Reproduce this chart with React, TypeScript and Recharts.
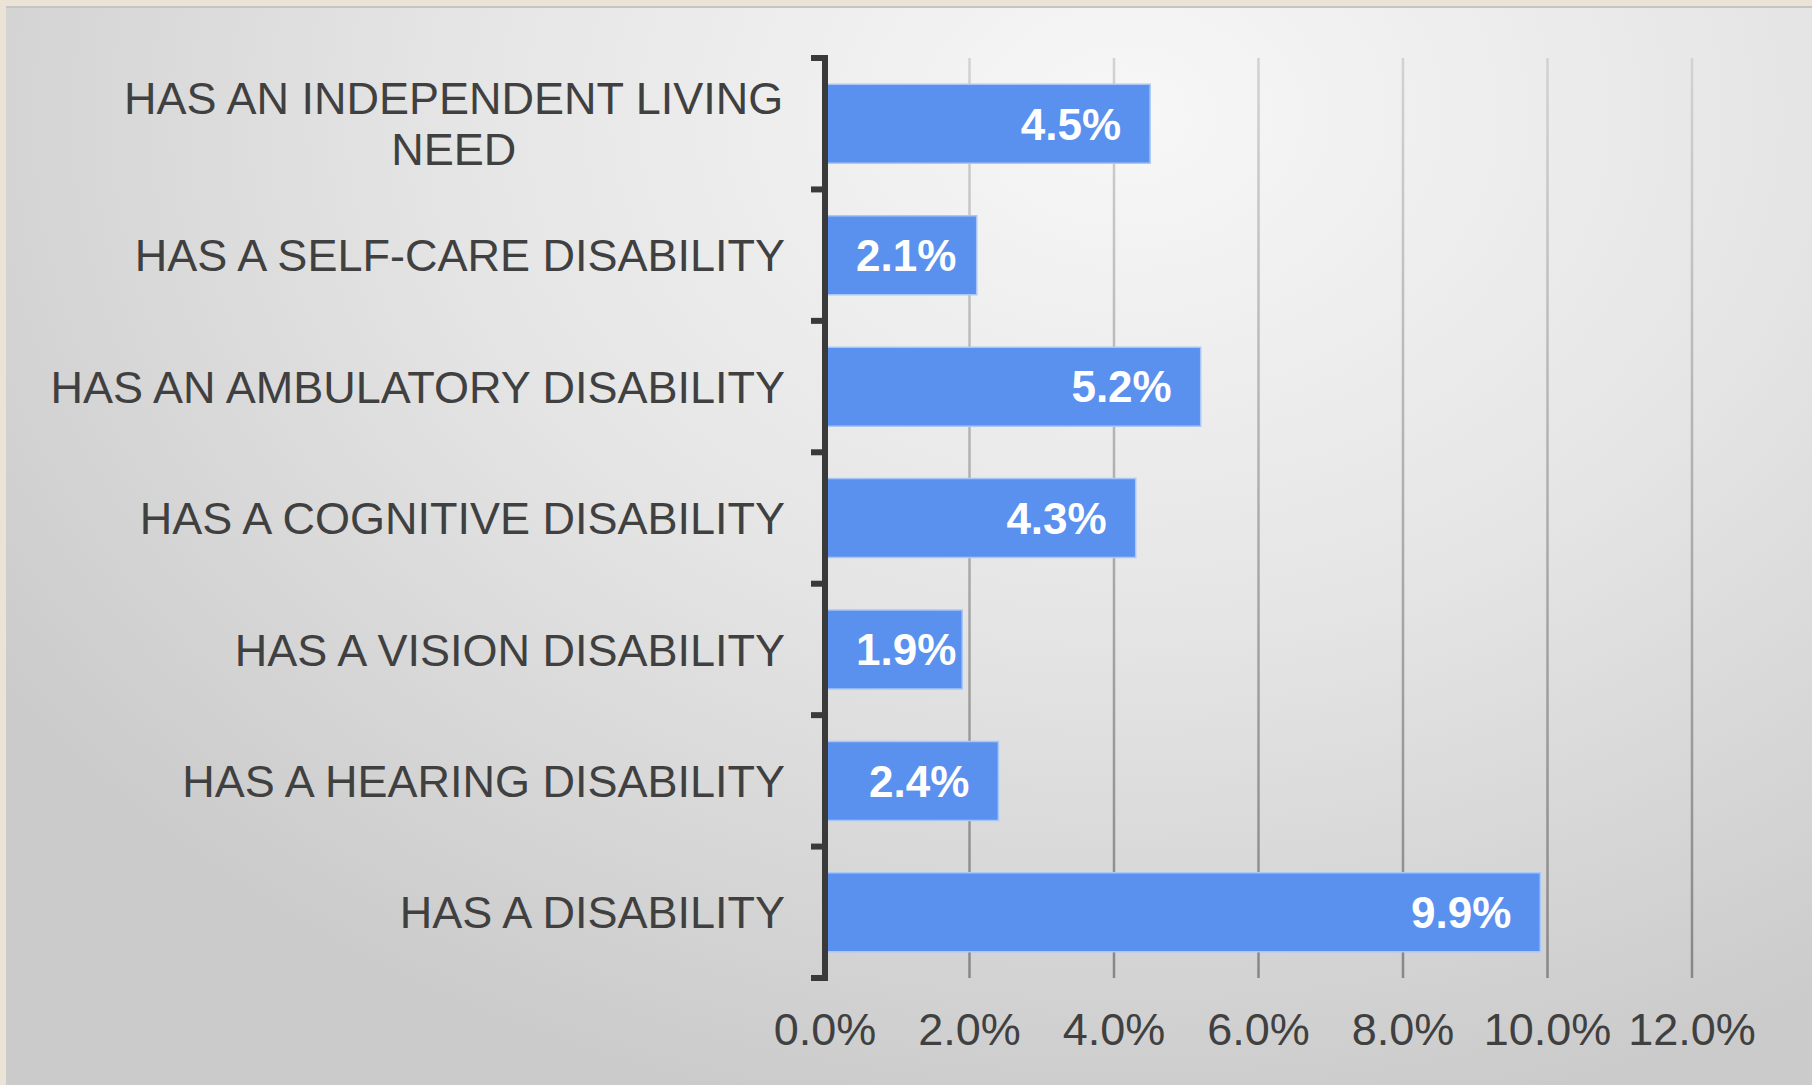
import React from "react";
import {
  BarChart,
  Bar,
  XAxis,
  YAxis,
  CartesianGrid,
  LabelList,
} from "recharts";

const categories = [
  "HAS AN INDEPENDENT LIVING NEED",
  "HAS A SELF-CARE DISABILITY",
  "HAS AN AMBULATORY DISABILITY",
  "HAS A COGNITIVE DISABILITY",
  "HAS A VISION DISABILITY",
  "HAS A HEARING DISABILITY",
  "HAS A DISABILITY",
];
const values = [4.5, 2.1, 5.2, 4.3, 1.9, 2.4, 9.9];
const xTicks = [0, 2, 4, 6, 8, 10, 12];

const data = categories.map((name, i) => ({ name, value: values[i] }));

const W = 1812;
const H = 1085;
const MARGIN = { top: 58, right: 120, bottom: 7, left: 0 };
const Y_AXIS_W = 825;
const X_AXIS_H = 100;
const PLOT_LEFT = MARGIN.left + Y_AXIS_W;
const PLOT_H = H - MARGIN.top - MARGIN.bottom - X_AXIS_H;
const BAND = PLOT_H / categories.length;

const FONT = "'Liberation Sans', Arial, sans-serif";
const TEXT = "#404040";
const AXIS = "#3a3a3a";
const FONT_SIZE = 45;
const VAL_SIZE = 44;
const MAX_LABEL_W = 770;

let ctx: CanvasRenderingContext2D | null = null;
function measure(s: string, size = FONT_SIZE, weight = "normal") {
  if (!ctx) ctx = document.createElement("canvas").getContext("2d");
  if (!ctx) return s.length * size * 0.6;
  ctx.font = `${weight} ${size}px ${FONT}`;
  return ctx.measureText(s).width;
}

// wrap a label into lines no wider than MAX_LABEL_W
function wrap(label: string) {
  const words = label.split(" ");
  const lines: string[] = [];
  let cur = "";
  words.forEach((w) => {
    const next = cur ? cur + " " + w : w;
    if (cur && measure(next) > MAX_LABEL_W) {
      lines.push(cur);
      cur = w;
    } else cur = next;
  });
  if (cur) lines.push(cur);
  return lines;
}

function YTick(props: any) {
  const { y, payload, index } = props;
  const right = PLOT_LEFT - 40;
  const lines = wrap(payload.value);
  const widest = Math.max(...lines.map((l) => measure(l)));
  const lh = 51;
  const y0 = y - ((lines.length - 1) * lh) / 2;
  const top = y - BAND / 2;
  const bottom = y + BAND / 2;
  return (
    <g>
      <line x1={PLOT_LEFT - 14} x2={PLOT_LEFT + 3} y1={top} y2={top} stroke={AXIS} strokeWidth={6} />
      {index === categories.length - 1 && (
        <line x1={PLOT_LEFT - 14} x2={PLOT_LEFT + 3} y1={bottom} y2={bottom} stroke={AXIS} strokeWidth={6} />
      )}
      {lines.map((l, i) => (
        <text
          key={i}
          x={lines.length > 1 ? right - widest / 2 : right}
          y={y0 + i * lh}
          dy="0.36em"
          textAnchor={lines.length > 1 ? "middle" : "end"}
          fill={TEXT}
          fontSize={FONT_SIZE}
          fontFamily={FONT}
        >
          {l}
        </text>
      ))}
    </g>
  );
}

// inside-end label, but never closer to the bar start than the padding
function ValueLabel(props: any) {
  const { x, y, width, height, value } = props;
  const s = Number(value).toFixed(1) + "%";
  const w = measure(s, VAL_SIZE, "bold");
  const pad = 29;
  const tx = Math.max(x + 31, x + width - pad - w);
  return (
    <text
      x={tx}
      y={y + height / 2}
      dy="0.36em"
      fill="#ffffff"
      fontSize={VAL_SIZE}
      fontWeight="bold"
      fontFamily={FONT}
    >
      {s}
    </text>
  );
}

export default function App() {
  return (
    <div
      style={{
        position: "absolute",
        left: 0,
        top: 0,
        width: W,
        height: H,
        background: "#ebe4d6",
        overflow: "hidden",
      }}
    >
      <div
        style={{
          position: "absolute",
          left: 6,
          top: 6,
          right: 0,
          bottom: 0,
          background:
            "radial-gradient(ellipse 75% 95% at 62% 10%, #f7f7f7 0%, #e5e5e5 50%, #cbcbcb 100%)",
          borderTop: "2px solid #c4c4c4",
        }}
      />
      <div style={{ position: "absolute", left: 0, top: 0 }}>
        <BarChart
          width={W}
          height={H}
          data={data}
          layout="vertical"
          margin={MARGIN}
          barCategoryGap="20%"
        >
          <defs>
            <linearGradient
              id="gridGrad"
              gradientUnits="userSpaceOnUse"
              x1="0"
              y1={MARGIN.top}
              x2="0"
              y2={MARGIN.top + PLOT_H}
            >
              <stop offset="0%" stopColor="#d2d2d2" />
              <stop offset="100%" stopColor="#878787" />
            </linearGradient>
          </defs>
          <CartesianGrid horizontal={false} stroke="url(#gridGrad)" strokeWidth={2.5} />
          <XAxis
            type="number"
            domain={[0, 12]}
            ticks={xTicks}
            tickFormatter={(v: number) => v.toFixed(1) + "%"}
            axisLine={false}
            tickLine={false}
            tickMargin={29}
            height={X_AXIS_H}
            interval={0}
            tick={{ fill: TEXT, fontSize: FONT_SIZE, fontFamily: FONT }}
          />
          <YAxis
            type="category"
            dataKey="name"
            width={Y_AXIS_W}
            axisLine={{ stroke: AXIS, strokeWidth: 6 }}
            tickLine={false}
            interval={0}
            tick={<YTick />}
          />
          <Bar
            dataKey="value"
            fill="#5a91ee"
            stroke="#a9c6f6"
            strokeWidth={1.5}
            isAnimationActive={false}
          >
            <LabelList dataKey="value" content={<ValueLabel />} />
          </Bar>
        </BarChart>
      </div>
    </div>
  );
}
